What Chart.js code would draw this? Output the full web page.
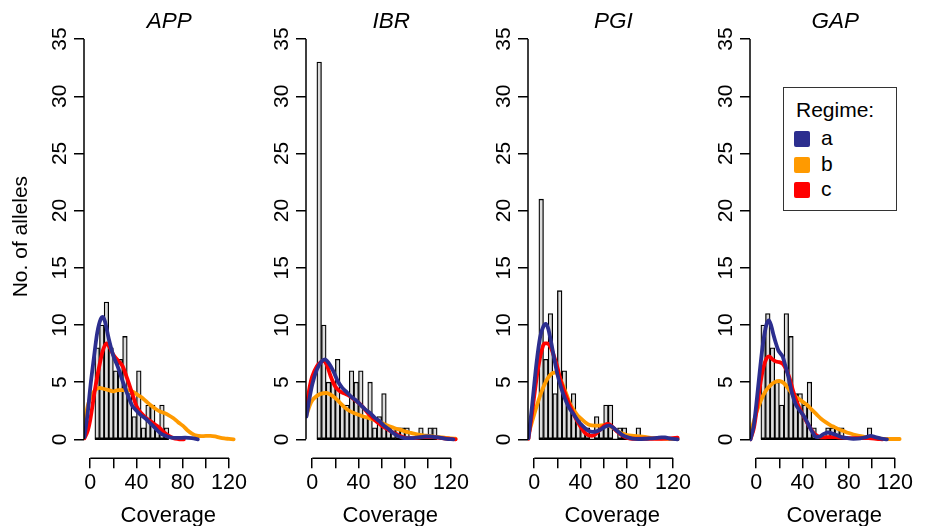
<!DOCTYPE html>
<html><head><meta charset="utf-8">
<script src="https://cdn.jsdelivr.net/npm/chart.js@4.4.1/dist/chart.umd.min.js"></script>
<style>
html,body{margin:0;padding:0;background:#fff;width:925px;height:526px;overflow:hidden;position:relative;font-family:'Liberation Sans',Arial,sans-serif;}
.pane{position:absolute;top:0;width:256px;height:526px;}
#legend{position:absolute;left:783px;top:87px;width:112px;height:122px;border:1px solid #333;font-size:21px;color:#000;background:#fff;}
#legend .t{position:absolute;left:12px;top:9px;line-height:26px;}
#legend .row{position:absolute;left:10px;height:26px;line-height:26px;}
#legend .sw{position:absolute;left:0;top:5px;width:16px;height:16px;border-radius:2px;}
#legend .lb{position:absolute;left:27px;top:-1px;}
</style></head><body>
<div id="legend"></div>
<script>
// ---- data ----
const panels = ['APP', 'IBR', 'PGI', 'GAP'];
const regimes = ['a', 'b', 'c'];
const binMids = [6,10,14,18,22,26,30,34,38,42,46,50,54,58,62,66,70,74,78,82,86,90,94,98,102,106,110,114,118];
const binWidth = 4;
const xTicks = [0, 20, 40, 60, 80, 100, 120];
const xTickLabels = ['0', '', '40', '', '80', '', '120'];
const yTicks = [0, 5, 10, 15, 20, 25, 30, 35];

const countsAPP = [8,10,12,8,6,7,9,4,2,6,1,3,3,1,3,1];
const countsIBR = [33,10,5,5,7,3,3,6,5,6,2,5,1,2,4,1,1,1,1,1,0,0,1,0,1,1];
const countsPGI = [21,7,11,4,13,6,3,4,2,1,1,0,2,1,3,3,0,1,1,0,0,1];
const countsGAP = [10,11,8,5,3,11,9,4,4,3,5,1,0,0,1,1,1,1,0,0,0,0,0,1];

const APP_a = [[-5,0.2],[-2,2.5],[0,4.5],[3,7.0],[6,9.3],[9,10.5],[11,10.7],[13,10.2],[16,8.8],[20,7.3],[24,6.3],[28,5.1],[32,4.0],[36,3.0],[40,2.5],[44,2.1],[48,1.8],[52,1.4],[56,1.0],[60,0.6],[64,0.35],[70,0.15],[76,0.12],[82,0.15],[88,0.1],[93,0.0]];
const APP_b = [[-5,1.4],[-2,3.0],[0,3.6],[4,4.3],[8,4.5],[12,4.4],[16,4.3],[20,4.2],[24,4.3],[28,4.3],[32,4.3],[36,4.2],[40,3.95],[44,3.7],[48,3.35],[52,3.0],[56,2.7],[60,2.45],[64,2.3],[68,2.1],[72,1.85],[76,1.5],[80,1.2],[84,0.8],[88,0.5],[92,0.32],[96,0.28],[100,0.3],[104,0.3],[108,0.25],[112,0.15],[116,0.08],[120,0.04],[124,0.0]];
const APP_c = [[-5,0.1],[-2,0.8],[0,1.7],[4,4.3],[8,6.5],[11,7.8],[14,8.4],[17,8.0],[20,7.4],[24,6.9],[28,6.4],[32,5.3],[36,4.1],[40,2.9],[44,2.3],[48,1.9],[52,1.6],[56,1.3],[60,1.0],[64,0.6],[68,0.3],[72,0.1],[76,0.03],[81,0.0]];

const IBR_a = [[-5,2.0],[-2,3.8],[0,4.8],[4,6.1],[8,6.8],[11,7.0],[14,6.7],[18,6.0],[22,5.1],[26,4.5],[30,4.1],[34,3.7],[38,3.4],[42,3.0],[46,2.6],[50,2.3],[54,1.9],[58,1.6],[62,1.2],[66,0.9],[70,0.55],[74,0.3],[78,0.15],[82,0.1],[86,0.1],[90,0.15],[94,0.2],[98,0.25],[102,0.25],[106,0.2],[110,0.15],[116,0.05],[122,0.0]];
const IBR_b = [[-5,2.1],[-2,3.0],[0,3.4],[4,3.8],[8,4.0],[12,4.05],[16,3.9],[20,3.6],[24,3.2],[28,2.8],[32,2.5],[36,2.3],[40,2.15],[44,2.0],[48,1.9],[52,1.75],[56,1.6],[60,1.45],[64,1.25],[68,1.1],[72,0.95],[76,0.85],[80,0.7],[84,0.6],[88,0.5],[92,0.42],[96,0.35],[100,0.3],[104,0.25],[108,0.2],[112,0.17],[116,0.12],[120,0.08],[124,0.05]];
const IBR_c = [[-5,2.9],[-2,4.7],[0,5.5],[4,6.4],[8,6.8],[10,6.9],[13,6.4],[16,5.5],[20,4.6],[24,4.2],[28,4.0],[32,3.8],[36,3.5],[40,3.2],[44,2.8],[48,2.3],[52,1.9],[56,1.5],[60,1.2],[64,0.95],[68,0.7],[72,0.5],[76,0.3],[80,0.15],[84,0.1],[88,0.1],[92,0.15],[96,0.2],[100,0.2],[104,0.2],[108,0.15],[112,0.1],[118,0.05],[124,0.0]];

const PGI_a = [[-5,0.1],[-2,2.8],[0,4.8],[2,6.7],[5,8.9],[8,9.9],[10,10.1],[12,9.7],[14,8.8],[17,7.2],[20,5.7],[23,4.6],[26,3.7],[30,2.8],[34,2.2],[38,1.6],[42,1.15],[46,0.8],[50,0.65],[54,0.7],[58,0.9],[62,1.15],[65,1.2],[68,1.05],[72,0.7],[76,0.4],[80,0.2],[85,0.07],[90,0.03],[96,0.05],[100,0.08],[106,0.13],[110,0.18],[113,0.17],[118,0.06],[124,0.0]];
const PGI_b = [[-5,0.45],[-2,1.5],[0,2.2],[4,3.5],[8,4.6],[12,5.4],[16,5.8],[19,5.85],[22,5.4],[25,4.7],[28,3.9],[31,3.1],[34,2.6],[37,2.15],[40,1.85],[44,1.5],[48,1.25],[52,1.2],[56,1.2],[60,1.25],[64,1.2],[68,1.0],[72,0.7],[76,0.5],[80,0.37],[86,0.3],[92,0.25],[98,0.17],[104,0.1],[110,0.07],[116,0.04],[124,0.02]];
const PGI_c = [[-5,0.05],[-2,2.2],[0,3.8],[3,6.0],[6,7.6],[9,8.4],[11,8.4],[14,8.1],[17,7.3],[20,6.3],[23,5.1],[26,4.2],[29,3.4],[32,2.7],[35,2.0],[38,1.45],[41,0.95],[44,0.55],[47,0.35],[50,0.3],[53,0.45],[56,0.75],[60,1.15],[63,1.35],[66,1.25],[69,0.95],[72,0.65],[76,0.35],[80,0.15],[85,0.05],[90,0.05],[100,0.05],[110,0.05],[118,0.08],[124,0.15]];

const GAP_a = [[-5,0.0],[-2,1.3],[0,3.0],[3,5.9],[6,8.5],[9,10.1],[11,10.4],[13,9.9],[15,9.1],[17,8.4],[19,7.8],[21,7.5],[23,7.2],[25,6.5],[28,5.4],[31,4.0],[34,3.1],[37,2.6],[40,2.2],[43,1.7],[46,1.1],[49,0.55],[52,0.2],[55,0.25],[58,0.45],[62,0.6],[66,0.5],[70,0.35],[74,0.2],[78,0.12],[84,0.05],[90,0.08],[95,0.2],[99,0.3],[103,0.2],[108,0.07],[113,0.0]];
const GAP_b = [[-5,0.6],[-2,1.6],[0,2.3],[4,3.4],[8,4.2],[12,4.7],[16,5.0],[20,5.1],[24,4.9],[28,4.4],[32,3.9],[36,3.6],[40,3.3],[44,3.0],[48,2.6],[52,2.2],[56,1.8],[60,1.5],[64,1.25],[68,1.05],[72,0.85],[76,0.7],[80,0.55],[84,0.42],[88,0.32],[92,0.25],[96,0.18],[100,0.12],[104,0.08],[110,0.04],[116,0.03],[124,0.03]];
const GAP_c = [[-5,0.0],[-2,1.0],[0,2.3],[3,4.5],[6,6.2],[9,7.1],[11,7.25],[14,7.0],[17,6.8],[20,6.75],[23,6.6],[26,6.1],[29,5.3],[32,4.2],[35,3.3],[38,2.6],[41,2.0],[44,1.45],[47,0.95],[50,0.5],[53,0.3],[56,0.17],[60,0.18],[65,0.2],[70,0.18],[75,0.15],[82,0.1],[90,0.1],[97,0.1],[104,0.05],[109,0.0]];

const panelCounts = {APP: countsAPP, IBR: countsIBR, PGI: countsPGI, GAP: countsGAP};
const panelCurves = {
  APP: {a: APP_a, b: APP_b, c: APP_c},
  IBR: {a: IBR_a, b: IBR_b, c: IBR_c},
  PGI: {a: PGI_a, b: PGI_b, c: PGI_c},
  GAP: {a: GAP_a, b: GAP_b, c: GAP_c}
};

// ---- style ----
const FONT = "'Liberation Sans', Arial, Helvetica, sans-serif";
const regimeColors = {a: '#2c2e8f', b: '#ff9a00', c: '#ff0000'};
const regimeOrder = {a: 1, c: 2, b: 3};
Chart.defaults.font.family = FONT;
Chart.defaults.color = '#000';

const axisLines = {
  id: 'axisLines',
  afterDraw(chart) {
    const {ctx, chartArea, scales: {x, y}} = chart;
    ctx.save();
    ctx.strokeStyle = '#000';
    ctx.lineWidth = 1.5;
    ctx.beginPath();
    ctx.moveTo(chartArea.left, y.getPixelForValue(yTicks[0]));
    ctx.lineTo(chartArea.left, y.getPixelForValue(yTicks[yTicks.length - 1]));
    ctx.moveTo(x.getPixelForValue(xTicks[0]), chartArea.bottom);
    ctx.lineTo(x.getPixelForValue(xTicks[xTicks.length - 1]), chartArea.bottom);
    ctx.stroke();
    ctx.restore();
  }
};
const panelTitle = {
  id: 'panelTitle',
  afterDraw(chart, args, opts) {
    const {ctx, chartArea} = chart;
    ctx.save();
    ctx.font = 'italic 22.5px ' + FONT;
    ctx.fillStyle = '#000';
    ctx.textAlign = 'center';
    ctx.textBaseline = 'middle';
    ctx.fillText(opts.text, (chartArea.left + chartArea.right) / 2 + 1, 22);
    ctx.restore();
  }
};

panels.forEach((name, k) => {
  const pane = document.createElement('div');
  pane.className = 'pane';
  pane.style.left = (222 * k) + 'px';
  const cv = document.createElement('canvas');
  cv.width = 256; cv.height = 526;
  pane.appendChild(cv);
  document.body.insertBefore(pane, document.getElementById('legend'));

  const counts = panelCounts[name];
  const mids = binMids.slice(0, counts.length);
  const datasets = [{
    type: 'bar',
    data: mids.map((m, i) => ({x: m, y: counts[i]})),
    backgroundColor: '#dcdcdc',
    borderColor: '#000',
    borderWidth: 1.3,
    borderSkipped: false,
    barPercentage: 1,
    categoryPercentage: 1,
    order: 6
  }, {
    type: 'line',
    data: [{x: mids[0] - binWidth / 2, y: 0}, {x: mids[mids.length - 1] + binWidth / 2, y: 0}],
    borderColor: '#000', borderWidth: 1.2, pointRadius: 0, fill: false, order: 5
  }];
  regimes.forEach(r => {
    datasets.push({
      type: 'line',
      label: r,
      data: panelCurves[name][r].map(p => ({x: p[0], y: p[1]})),
      borderColor: regimeColors[r],
      borderWidth: 3.8,
      pointRadius: 0,
      fill: false,
      cubicInterpolationMode: 'monotone',
      borderCapStyle: 'round',
      borderJoinStyle: 'round',
      order: regimeOrder[r]
    });
  });

  new Chart(cv.getContext('2d'), {
    type: 'bar',
    data: {datasets},
    options: {
      responsive: false, animation: false, devicePixelRatio: 1,
      layout: {padding: {left: 0, top: 0, right: 3.4, bottom: 0}},
      plugins: {legend: {display: false}, tooltip: {enabled: false}, panelTitle: {text: name}},
      scales: {
        x: {
          type: 'linear', min: -5.4, max: 140.4, offset: false, bounds: 'data',
          border: {display: false},
          grid: {display: true, drawOnChartArea: false, drawTicks: true, tickLength: 10, color: '#000', lineWidth: 1.5, offset: false},
          ticks: {autoSkip: false, maxRotation: 0, minRotation: 0, padding: 2, color: '#000', font: {size: 21.5},
                  callback: (v, i) => xTickLabels[i]},
          afterBuildTicks: s => { s.ticks = xTicks.map(v => ({value: v})); },
          afterFit: s => { s.height = 67.7; },
          title: {display: true, text: 'Coverage', color: '#000', font: {size: 22, lineHeight: 0.95}, padding: {top: 0, bottom: 0}}
        },
        y: {
          type: 'linear', min: -1.658, max: 37.115, bounds: 'data',
          border: {display: false},
          grid: {display: true, drawOnChartArea: false, drawTicks: true, tickLength: 10, color: '#000', lineWidth: 1.5},
          ticks: {autoSkip: false, minRotation: 90, maxRotation: 90, crossAlign: 'center', padding: 2.3, color: '#000', font: {size: 21}},
          afterBuildTicks: s => { s.ticks = yTicks.map(v => ({value: v})); },
          afterFit: s => { s.width = 84; },
          title: {display: k === 0, text: 'No. of alleles', color: '#000', font: {size: 21}, padding: {top: 8.4, bottom: 0}}
        }
      }
    },
    plugins: [axisLines, panelTitle]
  });
});

// legend
const lg = document.getElementById('legend');
const t = document.createElement('div'); t.className = 't'; t.textContent = 'Regime:'; lg.appendChild(t);
regimes.forEach((r, i) => {
  const row = document.createElement('div'); row.className = 'row';
  row.style.top = (38 + 25.5 * i) + 'px';
  const sw = document.createElement('div'); sw.className = 'sw'; sw.style.background = regimeColors[r];
  const lb = document.createElement('div'); lb.className = 'lb'; lb.textContent = r;
  row.appendChild(sw); row.appendChild(lb); lg.appendChild(row);
});
</script>
</body></html>
